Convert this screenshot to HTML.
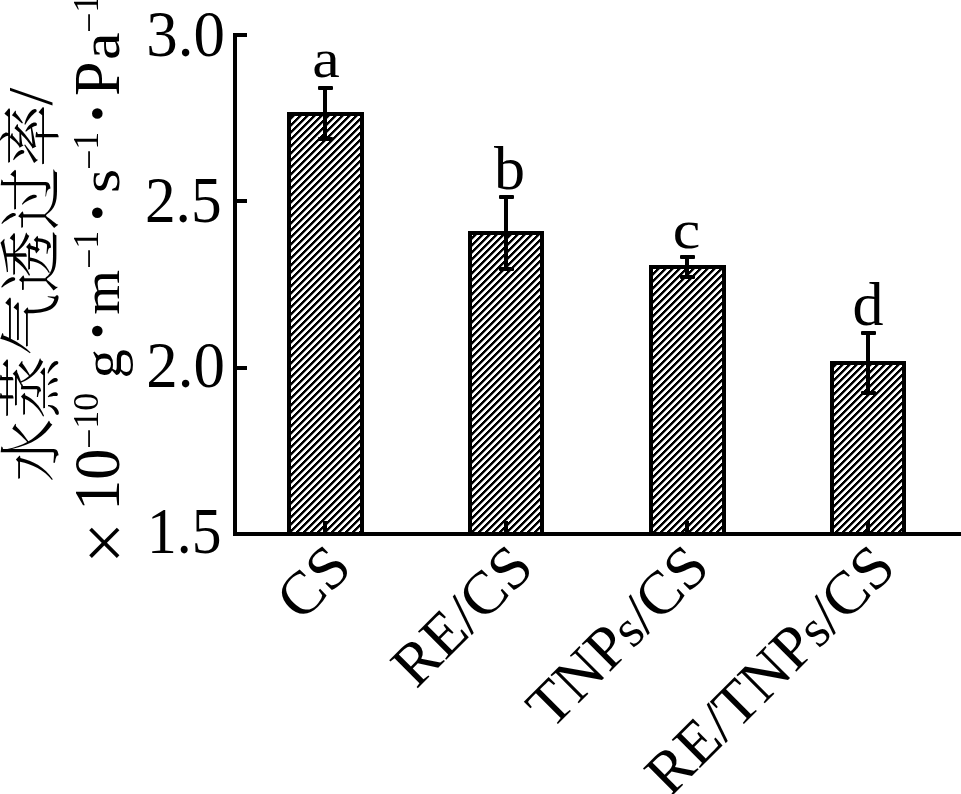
<!DOCTYPE html>
<html>
<head>
<meta charset="utf-8">
<style>
html,body{margin:0;padding:0;background:#fff;}
body{width:961px;height:794px;overflow:hidden;}
svg{display:block;filter:grayscale(1);}
.t{font-family:"Liberation Serif","Noto Serif CJK SC",serif;fill:#000;}
.c{font-family:"Liberation Serif","Noto Serif CJK SC",serif;fill:#000;}
</style>
</head>
<body>
<svg width="961" height="794" viewBox="0 0 961 794">
<defs>
<pattern id="h" patternUnits="userSpaceOnUse" x="0" y="0" width="7" height="7"><rect width="7" height="7" fill="#fff"/><g fill="#000"><rect x="1" y="0" width="3.4" height="1"/><rect x="0" y="1" width="3.4" height="1"/><rect x="6" y="2" width="1" height="1"/><rect x="0" y="2" width="2.40" height="1"/><rect x="5" y="3" width="2" height="1"/><rect x="0" y="3" width="1.40" height="1"/><rect x="4" y="4" width="3" height="1"/><rect x="0" y="4" width="0.40" height="1"/><rect x="3" y="5" width="3.4" height="1"/><rect x="2" y="6" width="3.4" height="1"/></g></pattern></defs>
<rect width="961" height="794" fill="#fff"/>
<g fill="#000"><rect x="287" y="112" width="77" height="420" fill="url(#h)"/><rect x="287" y="112" width="77" height="4"/><rect x="287" y="112" width="4" height="420"/><rect x="360" y="112" width="4" height="420"/><rect x="468" y="231" width="76" height="301" fill="url(#h)"/><rect x="468" y="231" width="76" height="4"/><rect x="468" y="231" width="4" height="301"/><rect x="540" y="231" width="4" height="301"/><rect x="649" y="265" width="77" height="267" fill="url(#h)"/><rect x="649" y="265" width="77" height="4"/><rect x="649" y="265" width="4" height="267"/><rect x="722" y="265" width="4" height="267"/><rect x="830" y="361" width="76" height="171" fill="url(#h)"/><rect x="830" y="361" width="76" height="4"/><rect x="830" y="361" width="4" height="171"/><rect x="902" y="361" width="4" height="171"/></g>
<g fill="#000"><rect x="323" y="521" width="4" height="12"/><rect x="323" y="86" width="4" height="55"/><rect x="318" y="86" width="15" height="4" rx="1"/><rect x="318" y="137" width="15" height="4" rx="1"/><rect x="504" y="521" width="4" height="12"/><rect x="504" y="195" width="4" height="76"/><rect x="499" y="195" width="15" height="4" rx="1"/><rect x="499" y="267" width="15" height="4" rx="1"/><rect x="685" y="521" width="4" height="12"/><rect x="685" y="255" width="4" height="24"/><rect x="680" y="255" width="15" height="4" rx="1"/><rect x="680" y="275" width="15" height="4" rx="1"/><rect x="866" y="521" width="4" height="12"/><rect x="866" y="331" width="4" height="64"/><rect x="861" y="331" width="15" height="4" rx="1"/><rect x="861" y="391" width="15" height="4" rx="1"/></g>
<g fill="#000">
<rect x="233" y="33" width="4" height="503"/>
<rect x="233" y="532" width="728" height="4"/>
<rect x="237" y="33" width="10" height="4"/>
<rect x="237" y="199" width="10" height="4"/>
<rect x="237" y="366" width="10" height="4"/>
</g>
<g class="t" font-size="62" text-anchor="end"><text transform="translate(224.9,55.5) scale(1.015,1.065)">3.0</text><text transform="translate(221.6,222) scale(0.99,1.065)">2.5</text><text transform="translate(224.9,387) scale(1.015,1.065)">2.0</text><text transform="translate(221.5,553) scale(0.96,1.065)">1.5</text></g>
<g class="t" font-size="62" text-anchor="middle"><text transform="translate(326,76.8) scale(1,0.89)">a</text><text transform="translate(509.5,188.8) scale(1,1.0)">b</text><text transform="translate(686.5,247.8) scale(1,0.89)">c</text><text transform="translate(868,324.5) scale(1,1.0)">d</text></g>
<g class="t" font-size="61" text-anchor="end"><text transform="translate(354,570) rotate(-45)">CS</text><text transform="translate(536,570) rotate(-45)">RE/CS</text><text transform="translate(712,570) rotate(-45)">TNP<tspan font-size="53">s</tspan>/CS</text><text transform="translate(898,570) rotate(-45)">RE/TNP<tspan font-size="53">s</tspan>/CS</text></g>
<text class="c" font-size="63" font-weight="300" transform="translate(53,482) rotate(-90)">水蒸气透过率<tspan font-size="64" font-weight="400" dx="-1.5" dy="-1.5">/</tspan></text>
<g class="t"><text font-size="74" transform="translate(128.6,563.7) rotate(-90)">×</text><text font-size="62" transform="translate(119,510.8) rotate(-90) scale(1,1.07)">10</text><text font-size="36" transform="translate(98,449) rotate(-90)"><tspan dy="3">−</tspan><tspan dy="-3">10</tspan></text><text font-size="62" transform="translate(120.5,378.5) rotate(-90) scale(0.95,0.88)">g</text><text font-size="44" transform="translate(111.7,338.8) rotate(-90)">•</text><text font-size="62" transform="translate(119,314.8) rotate(-90) scale(0.93,0.85)">m</text><text font-size="36" transform="translate(98,269) rotate(-90)"><tspan dy="3">−</tspan><tspan dy="-3">1</tspan></text><text font-size="44" transform="translate(111.7,220.5) rotate(-90)">•</text><text font-size="62" transform="translate(119,193) rotate(-90) scale(1,0.87)">s</text><text font-size="36" transform="translate(98,170) rotate(-90)"><tspan dy="3">−</tspan><tspan dy="-3">1</tspan></text><text font-size="44" transform="translate(111.7,121.3) rotate(-90)">•</text><text font-size="62" transform="translate(119,96) rotate(-90) scale(1,1.05)">P</text><text font-size="62" transform="translate(119,60) rotate(-90) scale(1,0.88)">a</text><text font-size="36" transform="translate(98,33) rotate(-90)"><tspan dy="3">−</tspan><tspan dy="-3">1</tspan></text></g>
</svg>
</body>
</html>
